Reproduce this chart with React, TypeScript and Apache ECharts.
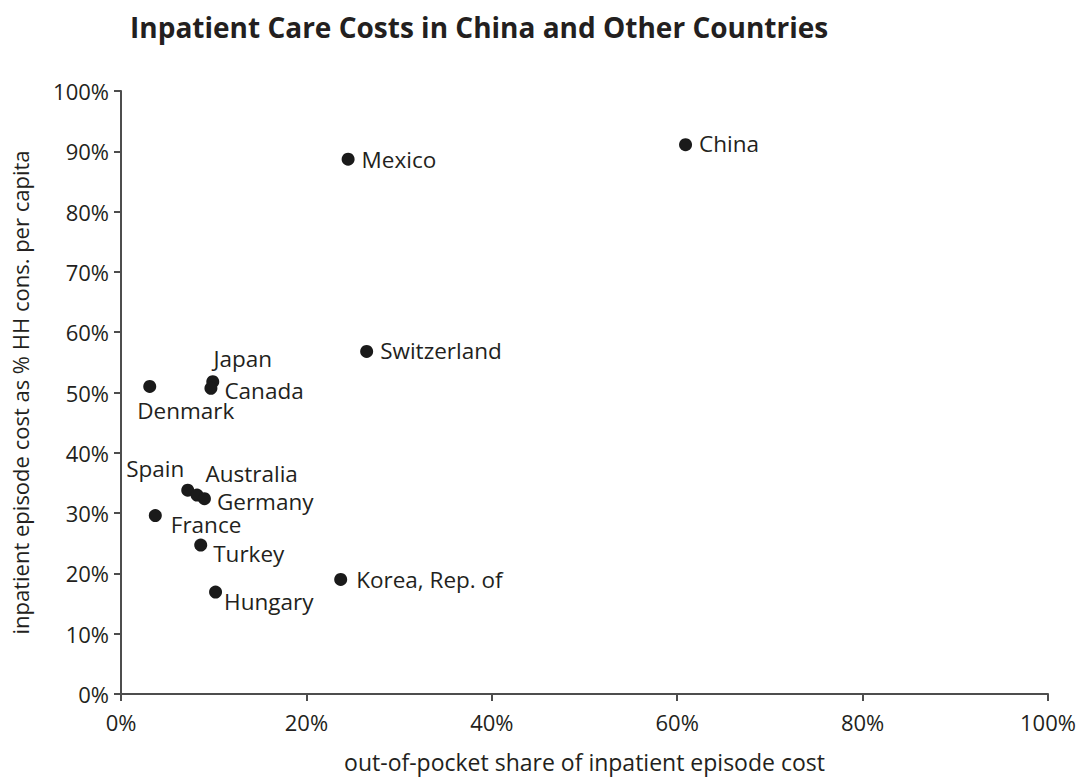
import React, { useEffect, useRef } from "react";
import * as echarts from "echarts";

const countries = ["China", "Mexico", "Switzerland", "Japan", "Canada", "Denmark", "Spain", "Australia", "Germany", "France", "Turkey", "Korea, Rep. of", "Hungary"];
const oopShare = [60.9, 24.5, 26.5, 9.9, 9.7, 3.1, 7.2, 8.2, 9.0, 3.7, 8.6, 23.7, 10.2];
const costShare = [91.1, 88.7, 56.8, 51.8, 50.7, 51.0, 33.8, 33.0, 32.4, 29.6, 24.7, 19.0, 16.9];
const xTicks = [0, 20, 40, 60, 80, 100];
const yTicks = [0, 10, 20, 30, 40, 50, 60, 70, 80, 90, 100];

// label placement (styling only)
const labelPlacement: Record<string, { position: string; offset: [number, number] }> = {
  China: { position: "right", offset: [2, -1] },
  Mexico: { position: "right", offset: [2, 0] },
  Switzerland: { position: "right", offset: [2, -1] },
  Japan: { position: "top", offset: [30, -2] },
  Canada: { position: "right", offset: [2, 2] },
  Denmark: { position: "bottom", offset: [36, 3] },
  Spain: { position: "left", offset: [8, -22] },
  Australia: { position: "right", offset: [-3, -22] },
  Germany: { position: "right", offset: [1, 3] },
  France: { position: "right", offset: [4, 9] },
  Turkey: { position: "right", offset: [1, 8] },
  "Korea, Rep. of": { position: "right", offset: [4, 0] },
  Hungary: { position: "right", offset: [-3, 9] },
};

const FONT = "'Open Sans', 'Noto Sans', sans-serif";
const TEXT = "#231f20";
const AXIS = "#4d4d4d";

export default function App() {
  const ref = useRef<HTMLDivElement>(null);
  useEffect(() => {
    if (!ref.current) return;
    const chart = echarts.init(ref.current, null, { renderer: "svg" });
    const data = countries.map((c, i) => ({
      name: c,
      value: [oopShare[i], costShare[i]],
      label: {
        show: true,
        formatter: c,
        position: labelPlacement[c].position,
        offset: labelPlacement[c].offset,
        distance: 5,
      },
    }));
    chart.setOption({
      animation: false,
      backgroundColor: "#ffffff",
      textStyle: { fontFamily: FONT },
      title: {
        text: "Inpatient Care Costs in China and Other Countries",
        left: 125,
        top: 8,
        textStyle: { fontFamily: FONT, fontWeight: "bold", fontSize: 28, color: TEXT },
      },
      grid: { left: 121, right: 32, top: 91, bottom: 83, containLabel: false },
      xAxis: {
        type: "value",
        min: xTicks[0],
        max: xTicks[xTicks.length - 1],
        interval: 20,
        name: "out-of-pocket share of inpatient episode cost",
        nameLocation: "middle",
        nameGap: 56,
        nameTextStyle: { fontFamily: FONT, fontSize: 23, color: TEXT },
        axisLine: { show: true, onZero: false, lineStyle: { color: AXIS, width: 2 } },
        axisTick: { show: true, inside: false, length: 7, lineStyle: { color: AXIS, width: 2 } },
        axisLabel: { formatter: "{value}%", margin: 17, fontFamily: FONT, fontSize: 22, color: TEXT },
        splitLine: { show: false },
      },
      yAxis: {
        type: "value",
        min: yTicks[0],
        max: yTicks[yTicks.length - 1],
        interval: 10,
        name: "inpatient episode cost as % HH cons. per capita",
        nameLocation: "middle",
        nameGap: 90,
        nameRotate: 90,
        nameTextStyle: { fontFamily: FONT, fontSize: 22, color: TEXT },
        axisLine: { show: true, onZero: false, lineStyle: { color: AXIS, width: 2 } },
        axisTick: { show: true, inside: false, length: 7, lineStyle: { color: AXIS, width: 2 } },
        axisLabel: { formatter: "{value}%", margin: 12, fontFamily: FONT, fontSize: 22, color: TEXT },
        splitLine: { show: false },
      },
      series: [
        {
          type: "scatter",
          symbol: "circle",
          symbolSize: 13,
          itemStyle: { color: "#1a1a1a", opacity: 1 },
          label: { fontFamily: FONT, fontSize: 22.5, lineHeight: 19, color: TEXT },
          data,
        },
      ],
    });
    return () => chart.dispose();
  }, []);
  return <div ref={ref} style={{ width: 1080, height: 778, position: "fixed", left: 0, top: 0 }} />;
}
